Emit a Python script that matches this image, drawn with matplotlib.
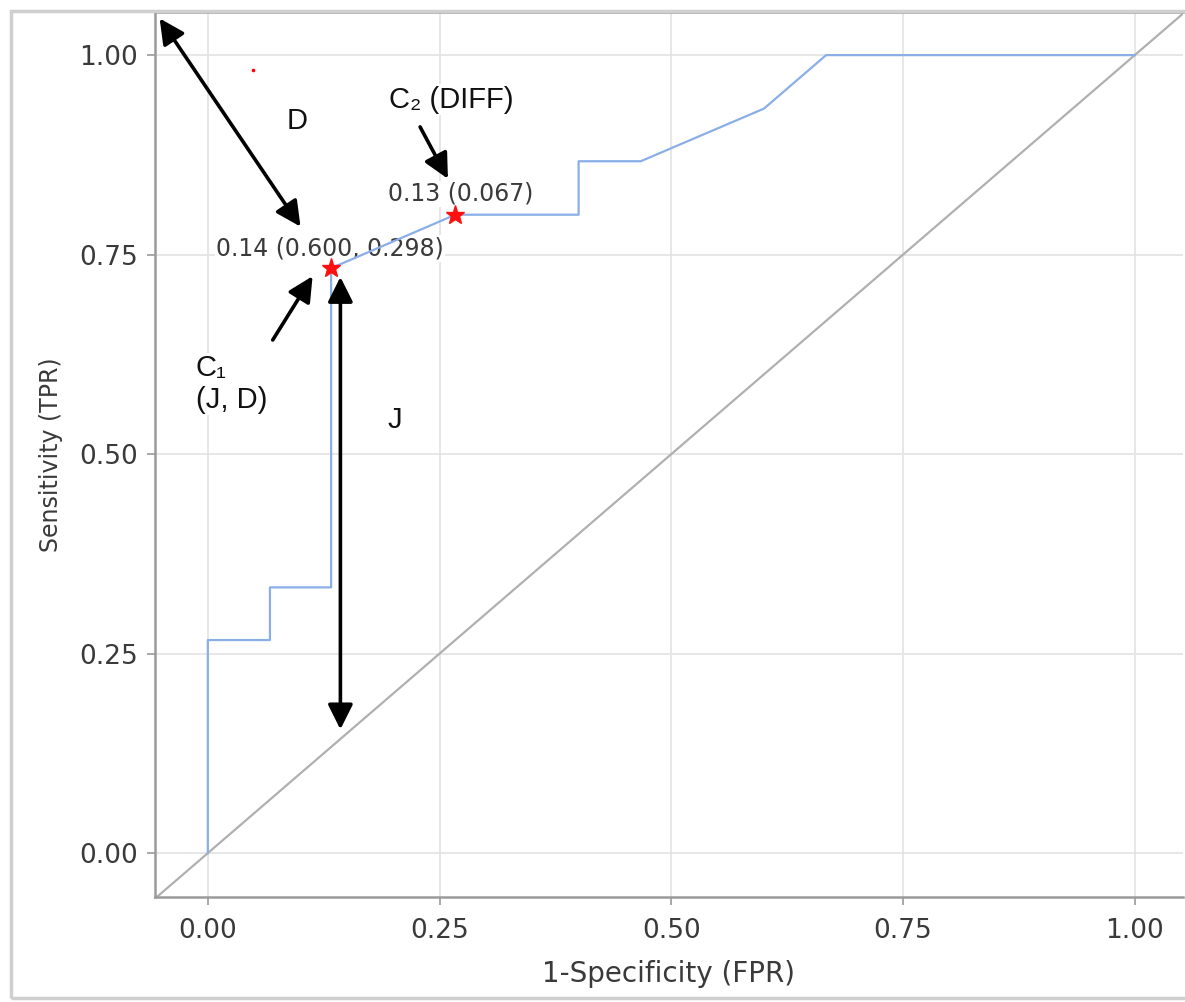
import matplotlib
matplotlib.use("Agg")
import matplotlib.pyplot as plt
from matplotlib.patches import Rectangle

# ROC curve points (FPR, TPR)
fpr = [0.0, 0.0, 0.067, 0.067, 0.133, 0.133, 0.267, 0.4, 0.4, 0.467, 0.6, 0.667, 1.0]
tpr = [0.0, 0.267, 0.267, 0.333, 0.333, 0.733, 0.8, 0.8, 0.867, 0.867, 0.933, 1.0, 1.0]

# chosen cut-off points (stars)
star_x = [0.133, 0.267]
star_y = [0.733, 0.8]
star_labels = ["0.14 (0.600, 0.298)", "0.13 (0.067)"]

# stray red dot in the original
dot_x = [0.049]
dot_y = [0.981]

ticks = [0.0, 0.25, 0.5, 0.75, 1.0]
tick_labels = ["0.00", "0.25", "0.50", "0.75", "1.00"]

fig = plt.figure(figsize=(11.85, 10.02), dpi=100)
ax = fig.add_axes([0.1308, 0.1048, 0.8675, 0.8832])

# outer frame of the screenshot
fig.patches.append(Rectangle((0.0093, 0.004), 1.1, 0.985, transform=fig.transFigure,
                             fill=False, edgecolor="#cfcfcf", linewidth=2.5))

ax.set_xlim(-0.057, 1.052)
ax.set_ylim(-0.055, 1.054)
ax.grid(True, color="#e3e3e3", linewidth=1.2)
ax.set_axisbelow(True)

# diagonal reference line and ROC curve
ax.plot([-0.06, 1.06], [-0.06, 1.06], color="#b0b0b0", linewidth=1.6, zorder=2)
ax.plot(fpr, tpr, color="#8aaee6", linewidth=1.6, zorder=3)
ax.plot(star_x, star_y, linestyle="none", marker="*", markersize=14,
        color="#ff1010", zorder=6)
ax.plot(dot_x, dot_y, linestyle="none", marker="o", markersize=1.6, color="red")

ax.set_xticks(ticks)
ax.set_xticklabels(tick_labels)
ax.set_yticks(ticks)
ax.set_yticklabels(tick_labels)
ax.tick_params(direction="out", length=6, width=1.2, color="#9a9a9a",
               labelsize=19, labelcolor="#3a3a3a", pad=6)
ax.tick_params(axis="x", pad=9)
ax.spines["right"].set_visible(False)
for s in ax.spines.values():
    s.set_color("#9a9a9a")
    s.set_linewidth(1.8)

ax.set_xlabel("1-Specificity (FPR)", fontsize=20, color="#3a3a3a", labelpad=12)
ax.set_ylabel("Sensitivity (TPR)", fontsize=17, color="#3a3a3a", labelpad=12)

box = dict(facecolor="white", edgecolor="none", pad=1)

# labels for the cut-off points
ax.text(0.132, 0.758, star_labels[0], fontsize=17, color="#3a3a3a",
        ha="center", va="center", bbox=box, zorder=2.5)
ax.text(0.273, 0.826, star_labels[1], fontsize=17, color="#3a3a3a",
        ha="center", va="center", bbox=box, zorder=2.5)

# annotation texts
fam = ["Liberation Sans", "DejaVu Sans"]
ax.text(0.096, 0.918, "D", fontsize=21, family=fam, ha="center", va="center", color="#111111")
ax.text(0.202, 0.543, "J", fontsize=21, family=fam, ha="center", va="center", color="#111111")
ax.text(0.263, 0.944, "C\u2082 (DIFF)", fontsize=21, family=fam, ha="center", va="center",
        color="#111111", bbox=box, zorder=2.5)
ax.text(-0.013, 0.588, "C\u2081\n(J, D)", fontsize=21, family=fam, ha="left", va="center",
        color="#111111", linespacing=1.15, bbox=box, zorder=2.5)

# arrows
dbl = dict(arrowstyle="<|-|>", mutation_scale=38, linewidth=2.6, color="black",
           shrinkA=0, shrinkB=0)
one = dict(arrowstyle="-|>", mutation_scale=38, linewidth=2.6, color="black",
           shrinkA=0, shrinkB=0)
ax.annotate("", xy=(-0.052, 1.046), xytext=(0.1, 0.785), arrowprops=dbl, zorder=7)
ax.annotate("", xy=(0.143, 0.722), xytext=(0.143, 0.155), arrowprops=dbl, zorder=7)
ax.annotate("", xy=(0.259, 0.845), xytext=(0.229, 0.91), arrowprops=one, zorder=7)
ax.annotate("", xy=(0.113, 0.723), xytext=(0.07, 0.643), arrowprops=one, zorder=7)

fig.savefig("out.png", dpi=100, facecolor="white")
